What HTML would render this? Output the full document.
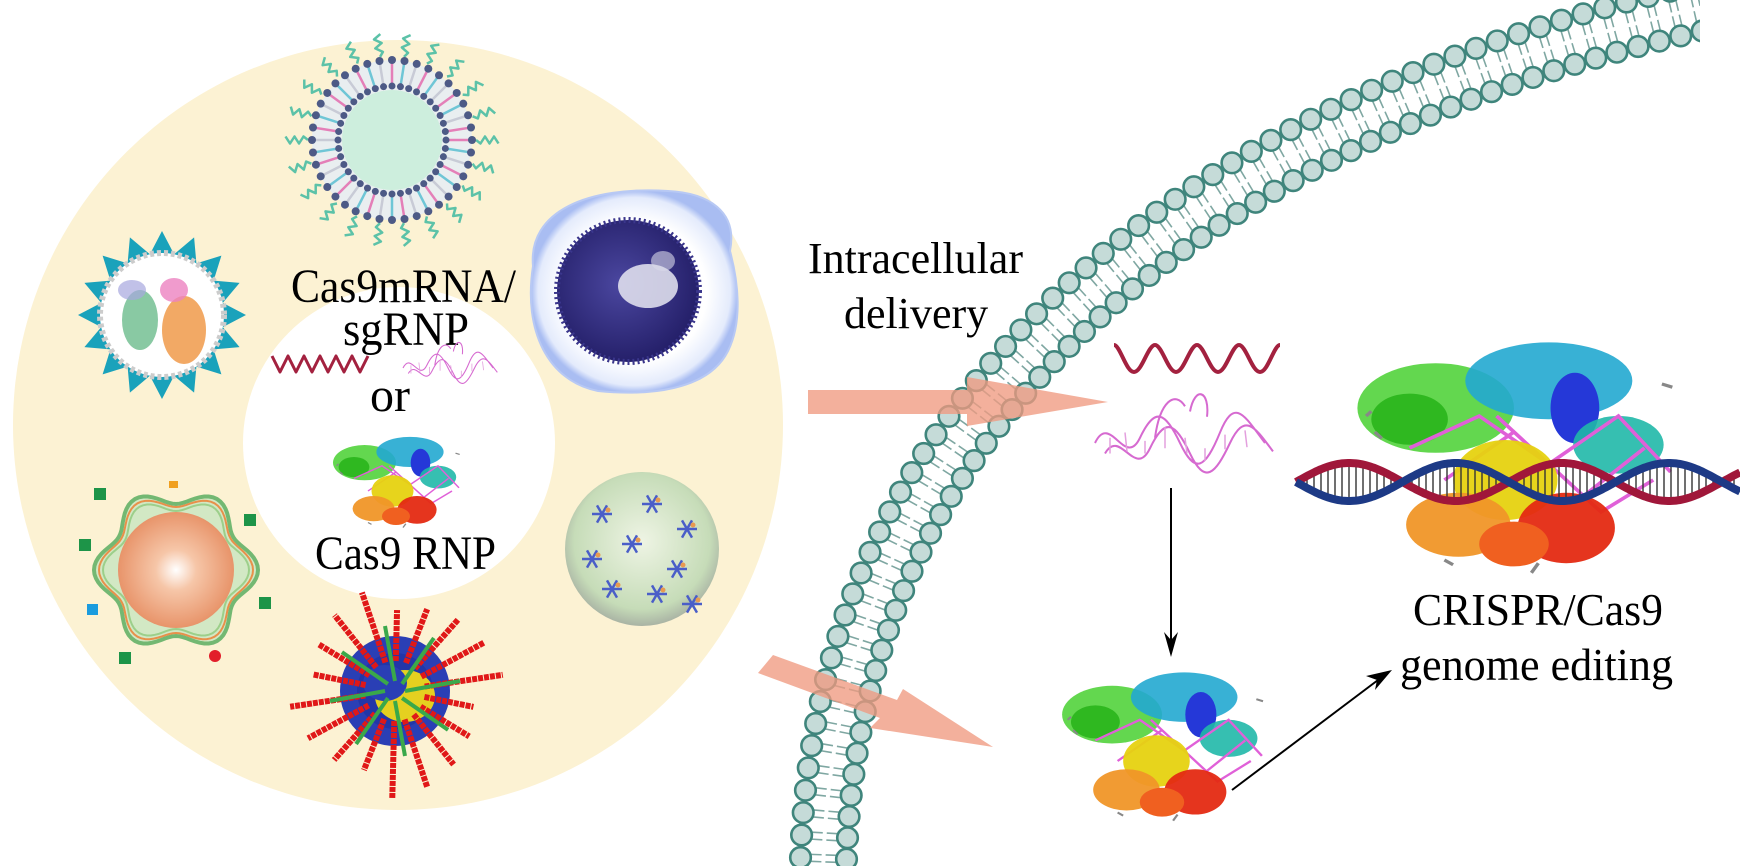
<!DOCTYPE html>
<html><head><meta charset="utf-8"><style>
html,body{margin:0;padding:0;background:#fff;width:1740px;height:866px;overflow:hidden}
svg{display:block}
text{font-family:"Liberation Serif",serif;fill:#000}
</style></head><body>
<svg id="s" width="1740" height="866" viewBox="0 0 1740 866" xmlns="http://www.w3.org/2000/svg">
<defs>
<clipPath id="mclip"><rect x="0" y="0" width="1700" height="866"/></clipPath>
<radialGradient id="gOr" cx="50%" cy="50%" r="50%"><stop offset="0" stop-color="#fff"/><stop offset="0.35" stop-color="#f6c6a8"/><stop offset="1" stop-color="#e8946a"/></radialGradient>
<radialGradient id="gGr" cx="50%" cy="45%" r="55%"><stop offset="0" stop-color="#eef4e4"/><stop offset="0.8" stop-color="#c6dcb8"/><stop offset="1" stop-color="#a9b3a4"/></radialGradient>
<radialGradient id="gBl" cx="50%" cy="50%" r="50%"><stop offset="0.7" stop-color="#ffffff"/><stop offset="0.93" stop-color="#e4ebfc"/><stop offset="1" stop-color="#a9bdf2"/></radialGradient>
<radialGradient id="gDk" cx="45%" cy="45%" r="55%"><stop offset="0" stop-color="#4b47a0"/><stop offset="1" stop-color="#25206a"/></radialGradient>
<g id="cas9">
 <ellipse cx="55" cy="55" rx="45" ry="28" fill="#48d030" opacity="0.85"/>
 <ellipse cx="40" cy="62" rx="22" ry="16" fill="#2fb820"/>
 <ellipse cx="120" cy="38" rx="48" ry="24" fill="#22a8d0" opacity="0.9"/>
 <ellipse cx="135" cy="55" rx="14" ry="22" fill="#2538d8"/>
 <ellipse cx="160" cy="78" rx="26" ry="18" fill="#20b8a8" opacity="0.9"/>
 <path d="M40 80 L80 60 L120 90 L160 60 L190 95 M60 100 L100 70 L140 110 L175 80 M90 60 L150 120 L180 100" stroke="#e060d8" stroke-width="2.2" fill="none"/>
 <ellipse cx="95" cy="100" rx="30" ry="25" fill="#e6d210" opacity="0.95"/>
 <ellipse cx="68" cy="128" rx="30" ry="20" fill="#f09628" opacity="0.95"/>
 <ellipse cx="130" cy="130" rx="28" ry="22" fill="#e42a12" opacity="0.95"/>
 <ellipse cx="100" cy="140" rx="20" ry="14" fill="#f06020"/>
 <path d="M20 70 l4 4 M15 60 l3 -3 M185 40 l6 2 M110 158 l4 -6 M60 150 l5 3" stroke="#888" stroke-width="2"/>
</g>
<g id="rna">
 <path d="M0 60 C15 30 30 85 45 55 S70 30 85 60 S110 85 125 50 S150 35 170 60 M10 70 C25 45 40 95 55 65 S80 40 95 70 S120 90 135 60 S160 45 178 68 M60 55 C65 20 80 10 90 25 M95 30 C100 5 115 10 112 35" stroke="#d66ad0" stroke-width="2" fill="none"/>
 <path d="M15 55 l0 15 M30 50 l2 18 M50 58 l0 12 M70 45 l0 20 M90 55 l2 15 M110 65 l0 12 M130 52 l0 14 M150 48 l2 16" stroke="#e3a0de" stroke-width="1.5"/>
</g>
</defs>

<circle cx="398" cy="425" r="385" fill="#fcf2d3"/>
<circle cx="399" cy="443" r="156" fill="#fff"/>

<g id="lipo" transform="translate(392,140)"></g>
<g transform="translate(162,315)">
 <polygon id="star1" fill="#1aa2bb"/>
 <circle r="62" fill="#fff" stroke="#ccc" stroke-width="6" stroke-dasharray="4 3"/>
 <ellipse cx="-22" cy="5" rx="18" ry="30" fill="#6cbc8c" opacity="0.8"/>
 <ellipse cx="22" cy="15" rx="22" ry="34" fill="#f09a4a" opacity="0.85"/>
 <ellipse cx="12" cy="-25" rx="14" ry="12" fill="#ec82c0" opacity="0.8"/>
 <ellipse cx="-30" cy="-25" rx="14" ry="10" fill="#a7a6de" opacity="0.7"/>
</g>
<g transform="translate(628,291)">
 <path d="M-95 -25 C-100 -80 -40 -105 40 -100 C80 -98 110 -80 102 -40 C110 -10 115 30 100 60 C80 100 20 105 -30 100 C-80 90 -105 40 -95 -25Z" fill="url(#gBl)" stroke="#b8c9f4" stroke-width="2"/>
 <circle r="71" fill="url(#gDk)"/>
 <circle r="71" fill="none" stroke="#3a368c" stroke-width="6" stroke-dasharray="2 3"/>
 <ellipse cx="20" cy="-5" rx="30" ry="22" fill="#e8e8f2" opacity="0.85"/>
 <ellipse cx="35" cy="-30" rx="12" ry="10" fill="#d8d8ea" opacity="0.6"/>
</g>
<g transform="translate(176,570)">
 <path id="flw" fill="#d2e8c4" stroke="#73b872" stroke-width="4"/>
 <circle r="58" fill="url(#gOr)"/>
 <rect x="-82" y="-82" width="12" height="12" fill="#1d9448"/>
 <rect x="-97" y="-31" width="12" height="12" fill="#1d9448"/>
 <rect x="68" y="-56" width="12" height="12" fill="#1d9448"/>
 <rect x="83" y="27" width="12" height="12" fill="#1d9448"/>
 <rect x="-57" y="82" width="12" height="12" fill="#1d9448"/>
 <rect x="-89" y="34" width="11" height="11" fill="#1a9cde"/>
 <circle cx="39" cy="86" r="6" fill="#e21e2a"/>
 <rect x="-7" y="-89" width="9" height="7" fill="#f0a020"/>
</g>
<g transform="translate(395,691)" id="starp">
 <circle r="55" fill="#2a3fb5"/>
 <circle r="38" fill="#2236a8"/>
 <ellipse cx="10" cy="5" rx="30" ry="26" fill="#e5d020"/>
 <ellipse cx="-10" cy="-8" rx="22" ry="18" fill="#2a3fb5"/>
</g>
<g transform="translate(642,549)">
 <circle r="77" fill="url(#gGr)"/>
 <g id="gstars" fill="#4a5ec8"></g>
</g>

<text x="291" y="302" font-size="48" textLength="225" lengthAdjust="spacingAndGlyphs">Cas9mRNA/</text>
<text x="343" y="345" font-size="48" textLength="126" lengthAdjust="spacingAndGlyphs">sgRNP</text>
<path d="M272 356 L280 372 L288 356 L296 372 L304 356 L312 372 L320 356 L328 372 L336 356 L344 372 L352 356 L360 372 L368 356" stroke="#a3213f" stroke-width="3" fill="none" stroke-linejoin="round"/>
<use href="#rna" transform="translate(403,335) scale(0.53,0.55)"/>
<text x="370" y="411" font-size="48">or</text>
<use href="#cas9" transform="translate(326,428) scale(0.7,0.63)"/>
<text x="315" y="569" font-size="48" textLength="181" lengthAdjust="spacingAndGlyphs">Cas9 RNP</text>

<path id="mp" d="M800 880 C805 420 1150 100 1720 -20" fill="none" stroke="none"/>
<g id="mem" clip-path="url(#mclip)"></g>

<g fill="#f09a80" opacity="0.78">
 <polygon points="808,390 967,390 967,377 1108,402 967,426 967,414 808,414"/>
 <polygon points="773,655 897,700 903,689 993,747 870,728 880,718 758,673"/>
</g>

<text x="808" y="273" font-size="44">Intracellular</text>
<text x="844" y="328" font-size="44">delivery</text>

<path d="M1114 345 C1120 345 1126 372 1134 372 C1142 372 1148 345 1155 345 C1162 345 1168 372 1176 372 C1184 372 1190 345 1197 345 C1204 345 1210 372 1218 372 C1226 372 1232 345 1239 345 C1246 345 1252 372 1260 372 C1268 372 1274 345 1280 345" stroke="#a3213f" stroke-width="4" fill="none"/>
<use href="#rna" transform="translate(1095,380) scale(1.0,1.05)"/>
<line x1="1171" y1="488" x2="1171" y2="645" stroke="#000" stroke-width="2"/>
<polygon points="1171,657 1164,632 1171,640 1178,632" fill="#000"/>
<use href="#cas9" transform="translate(1051,658) scale(1.11,1.03)"/>
<line x1="1232" y1="790" x2="1382" y2="677" stroke="#000" stroke-width="2"/>
<polygon points="1392,670 1366,676 1377,680 1375,690" fill="#000"/>

<use href="#cas9" transform="translate(1340,320) scale(1.74,1.6)"/>
<g id="dna"></g>

<text x="1413" y="625" font-size="46" textLength="250" lengthAdjust="spacingAndGlyphs">CRISPR/Cas9</text>
<text x="1400" y="680" font-size="46" textLength="273" lengthAdjust="spacingAndGlyphs">genome editing</text>
</svg>
<script>
(function(){
var NS="http://www.w3.org/2000/svg";
function el(t,a,p){var e=document.createElementNS(NS,t);for(var k in a)e.setAttribute(k,a[k]);(p||document.getElementById('s')).appendChild(e);return e;}
var pts=[];for(var i=0;i<32;i++){var r=i%2?62:84,a=i*Math.PI/16;pts.push((r*Math.cos(a)).toFixed(1)+","+(r*Math.sin(a)).toFixed(1));}
document.getElementById('star1').setAttribute('points',pts.join(' '));
var d="";for(var i=0;i<=120;i++){var a=i/120*2*Math.PI,r=74+8*Math.cos(6*a);d+=(i?"L":"M")+(r*Math.cos(a)).toFixed(1)+" "+(r*Math.sin(a)).toFixed(1);}
var f=document.getElementById('flw');f.setAttribute('d',d+"Z");
var fp=f.parentNode;
[66,70].forEach(function(R,j){var dd="";for(var i=0;i<=120;i++){var a=i/120*2*Math.PI,r=R+7*Math.cos(6*a);dd+=(i?"L":"M")+(r*Math.cos(a)).toFixed(1)+" "+(r*Math.sin(a)).toFixed(1);}
 var p=el('path',{d:dd+"Z",fill:"none",stroke:j?"#e8904a":"#9ccf8a","stroke-width":2},fp);fp.insertBefore(p,fp.children[1]);});
var L=document.getElementById('lipo');
for(var i=0;i<22;i++){var a=i/22*2*Math.PI,c=Math.cos(a),s=Math.sin(a);
 var w="M"+(84*c)+" "+(84*s);for(var k=1;k<=5;k++){var r=84+k*4.5,o=(k%2?3.5:-3.5);w+=" L"+(r*c-o*s).toFixed(1)+" "+(r*s+o*c).toFixed(1);}
 el('path',{d:w,fill:"none",stroke:"#5cc2a8","stroke-width":2.5,"stroke-linejoin":"round"},L);}
el('circle',{r:80,fill:"#e9eef0"},L);
for(var i=0;i<40;i++){var a=i/40*2*Math.PI,c=Math.cos(a),s=Math.sin(a);
 el('line',{x1:56*c,y1:56*s,x2:78*c,y2:78*s,stroke:i%3==0?"#e47fb8":(i%3==1?"#6fc6d6":"#c8cbd6"),"stroke-width":2.5},L);
 el('circle',{cx:80*c,cy:80*s,r:4,fill:"#4d5a86"},L);
 el('circle',{cx:54*c,cy:54*s,r:3.5,fill:"#4d5a86"},L);}
el('circle',{r:50,fill:"#cdeedd"},L);
var S=document.getElementById('starp');
for(var i=0;i<18;i++){var a=i/18*2*Math.PI+0.2,c=Math.cos(a),s=Math.sin(a),r2=80+((i*37)%30);
 el('line',{x1:30*c,y1:30*s,x2:r2*c,y2:r2*s,stroke:"#e01818","stroke-width":6,"stroke-dasharray":"5 1"},S);}
for(var i=0;i<8;i++){var a=i/8*2*Math.PI,c=Math.cos(a),s=Math.sin(a);
 el('line',{x1:10*c,y1:10*s,x2:65*c+10*s,y2:65*s-10*c,stroke:"#3aa84a","stroke-width":4},S);}
var G=document.getElementById('gstars');
[[-40,-35],[10,-45],[45,-20],[-50,10],[-10,-5],[35,20],[-30,40],[15,45],[50,55]].forEach(function(p){
 for(var k=0;k<6;k++){var a=k*Math.PI/3;el('line',{x1:p[0],y1:p[1],x2:p[0]+10*Math.cos(a),y2:p[1]+10*Math.sin(a),stroke:"#4a5ec8","stroke-width":2.5},G);}
 el('circle',{cx:p[0]+6,cy:p[1]-4,r:2.5,fill:"#e89a50"},G);});
var mp=document.getElementById('mp'),M=document.getElementById('mem'),TL=mp.getTotalLength();
var heads=[];
for(var s=0;s<TL;s+=22.5){var p=mp.getPointAtLength(s),q=mp.getPointAtLength(Math.min(s+1,TL)),pp=mp.getPointAtLength(Math.max(s-1,0));
 var dx=q.x-pp.x,dy=q.y-pp.y,l=Math.hypot(dx,dy);dx/=l;dy/=l;var nx=-dy,ny=dx;
 var ix=p.x+46*nx,iy=p.y+46*ny;
 for(var o=-3.5;o<=3.5;o+=7){
  el('line',{x1:p.x+10*nx+o*dx,y1:p.y+10*ny+o*dy,x2:p.x+21*nx+o*dx,y2:p.y+21*ny+o*dy,stroke:"#7fa7a2","stroke-width":1.6},M);
  el('line',{x1:p.x+25*nx+o*dx,y1:p.y+25*ny+o*dy,x2:p.x+36*nx+o*dx,y2:p.y+36*ny+o*dy,stroke:"#7fa7a2","stroke-width":1.6},M);}
 heads.push([p.x,p.y],[ix,iy]);}
heads.forEach(function(h){el('circle',{cx:h[0],cy:h[1],r:10.3,fill:"#c5dbd8",stroke:"#3f857c","stroke-width":2.6},M);});
var D=document.getElementById('dna');
function strand(ph){var d="";for(var x=1296;x<=1740;x+=2){var y=482+19*Math.sin((x-1296)/213*2*Math.PI+ph);d+=(x==1296?"M":"L")+x+" "+y.toFixed(1);}return d;}
for(var x=1300;x<=1740;x+=7){var y1=482+19*Math.sin((x-1296)/213*2*Math.PI),y2=482-19*Math.sin((x-1296)/213*2*Math.PI);
 el('line',{x1:x,y1:y1,x2:x,y2:y2,stroke:"#333","stroke-width":1.4},D);}
el('path',{d:strand(Math.PI),fill:"none",stroke:"#a0173a","stroke-width":8},D);
el('path',{d:strand(0),fill:"none",stroke:"#1d3a86","stroke-width":8},D);
})();
</script>
</body></html>
